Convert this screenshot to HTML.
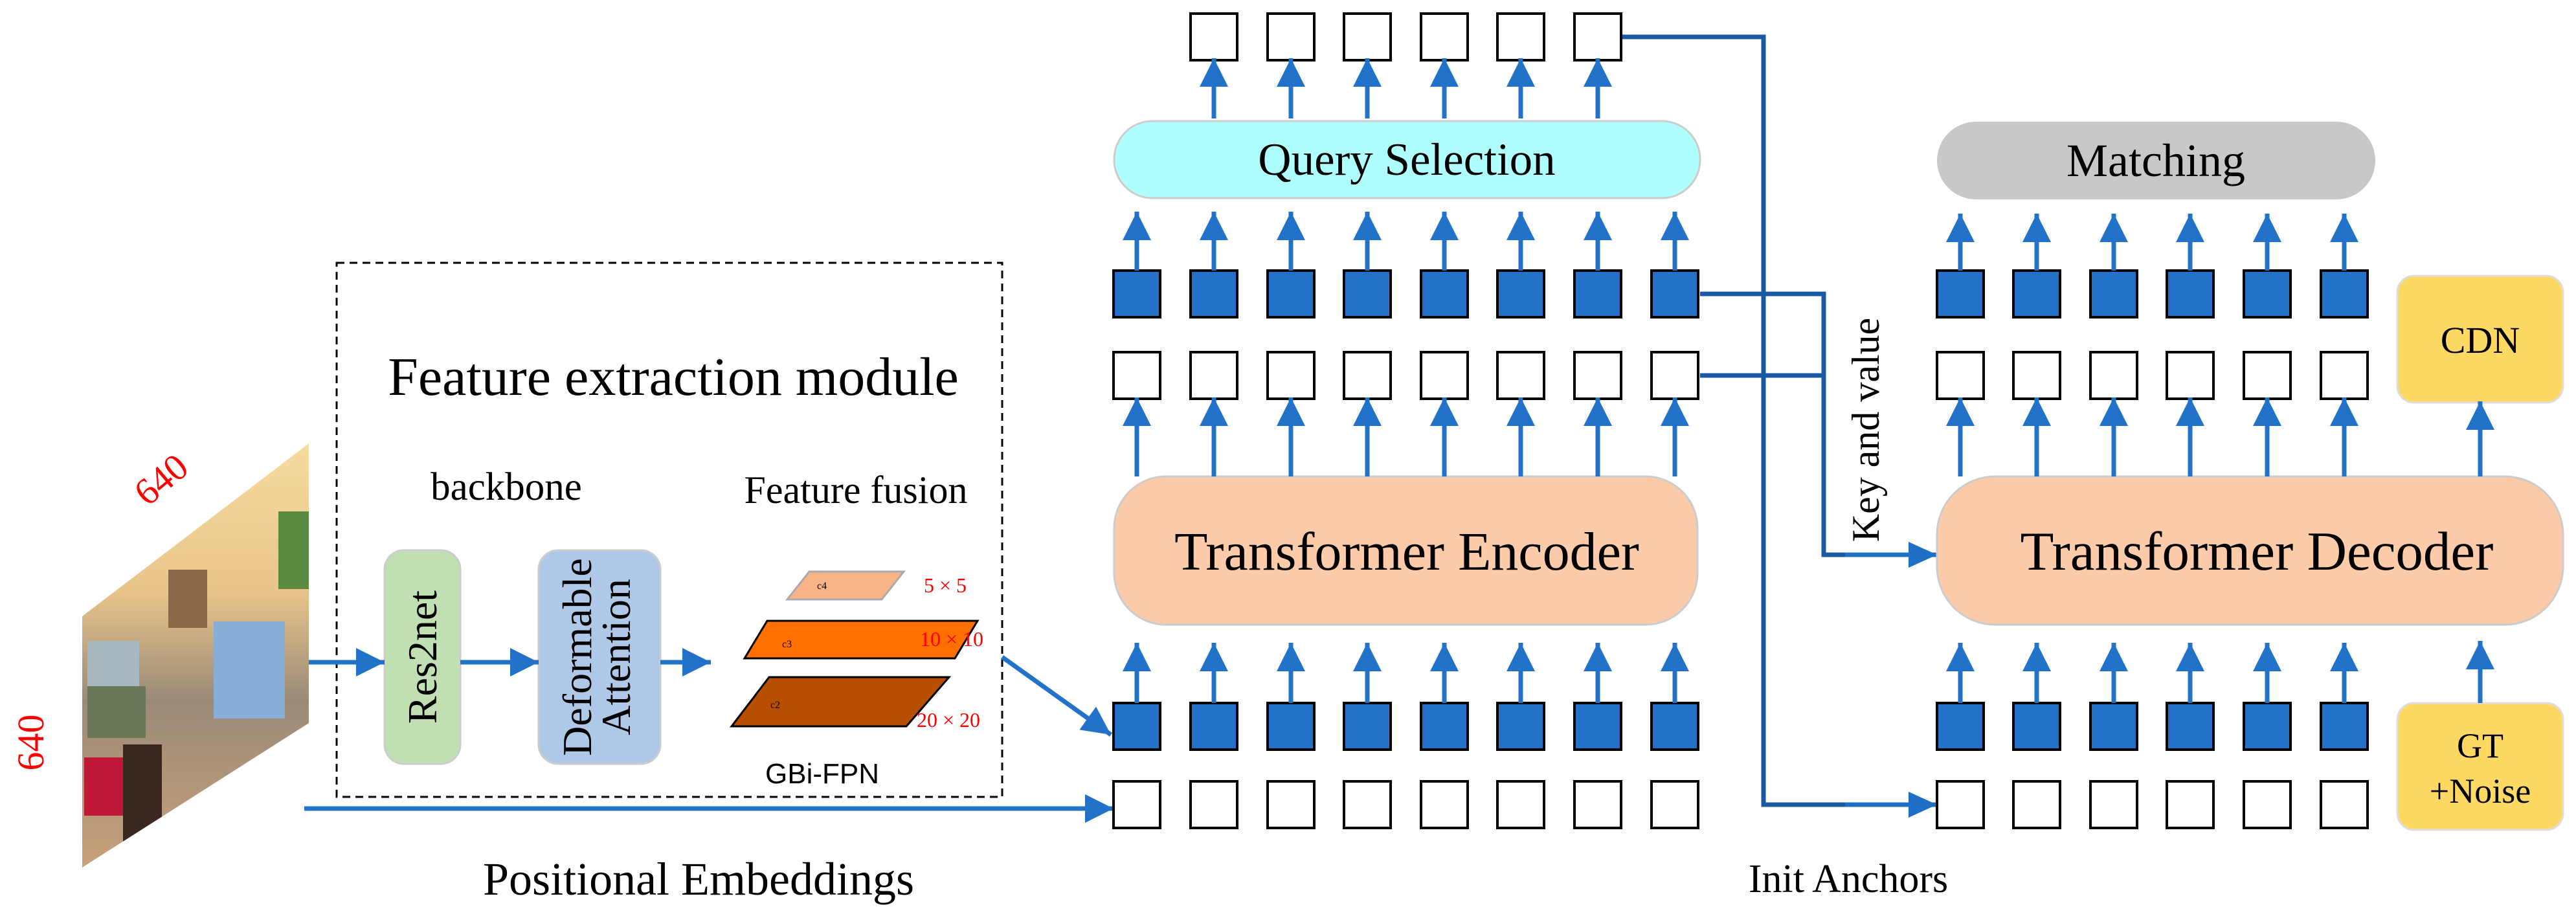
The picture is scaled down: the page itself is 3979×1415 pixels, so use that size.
<!DOCTYPE html>
<html><head><meta charset="utf-8"><style>
html,body{margin:0;padding:0;background:#fff}
svg{display:block}
text{font-family:"Liberation Serif",serif}
</style></head><body>
<svg width="3979" height="1415" viewBox="0 0 3979 1415" xmlns="http://www.w3.org/2000/svg" font-family="Liberation Serif, serif">
<defs>
<marker id="a" markerUnits="userSpaceOnUse" markerWidth="46" markerHeight="46" refX="44" refY="22" orient="auto"><path d="M0,0 L44,22 L0,44 z" fill="#2172c8"/></marker>
<marker id="b" markerUnits="userSpaceOnUse" markerWidth="46" markerHeight="46" refX="44" refY="20" orient="auto"><path d="M0,0 L44,20 L0,40 z" fill="#1f6fc6"/></marker>
<clipPath id="img"><polygon points="127,952 477,685 477,1117 127,1340"/></clipPath>
<linearGradient id="g1" x1="0" y1="0" x2="0" y2="1"><stop offset="0" stop-color="#f6dca0"/><stop offset="0.35" stop-color="#e8c48a"/><stop offset="0.6" stop-color="#9a8a78"/><stop offset="1" stop-color="#caa27a"/></linearGradient>
</defs>

<g clip-path="url(#img)">
<rect x="120" y="680" width="360" height="670" fill="url(#g1)"/>
<rect x="135" y="990" width="80" height="140" fill="#a8b8c0"/>
<rect x="135" y="1060" width="90" height="80" fill="#6a7858"/>
<rect x="330" y="960" width="110" height="150" fill="#88aed8"/>
<rect x="260" y="880" width="60" height="90" fill="#8a6848"/>
<rect x="130" y="1170" width="70" height="90" fill="#c01838"/>
<rect x="190" y="1150" width="60" height="150" fill="#3a2820"/>
<rect x="430" y="790" width="50" height="120" fill="#5a8a40"/>
</g>
<text x="249" y="760" font-size="58" fill="#ff0000" text-anchor="middle" transform="rotate(-40 249 741)">640</text>
<text x="46" y="1168" font-size="58" fill="#ff0000" text-anchor="middle" transform="rotate(-90 46 1147)">640</text>

<rect x="520" y="406" width="1028" height="825" fill="none" stroke="#000" stroke-width="3" stroke-dasharray="12,8"/>
<text x="1040" y="610" font-size="84" text-anchor="middle">Feature extraction module</text>
<text x="782" y="772" font-size="61" text-anchor="middle">backbone</text>
<text x="1322" y="777" font-size="60" text-anchor="middle">Feature fusion</text>

<rect x="594" y="850" width="117" height="330" rx="30" fill="#c0e0b4" stroke="#ccc" stroke-width="3"/>
<text x="0" y="0" font-size="64" text-anchor="middle" transform="translate(674 1015) rotate(-90)">Res2net</text>
<rect x="832" y="850" width="188" height="330" rx="30" fill="#b0c8e8" stroke="#ccc" stroke-width="3"/>
<text x="0" y="0" font-size="64" text-anchor="middle" transform="translate(913 1015) rotate(-90)">Deformable</text>
<text x="0" y="0" font-size="64" text-anchor="middle" transform="translate(973 1015) rotate(-90)">Attention</text>

<line x1="477" y1="1023" x2="594" y2="1023" stroke="#2172c8" stroke-width="7" marker-end="url(#a)"/>
<line x1="711" y1="1023" x2="832" y2="1023" stroke="#2172c8" stroke-width="7" marker-end="url(#a)"/>
<line x1="1020" y1="1023" x2="1098" y2="1023" stroke="#2172c8" stroke-width="7" marker-end="url(#a)"/>

<polygon points="1250,883 1396,883 1362,926 1216,926" fill="#f8b488" stroke="#aaa" stroke-width="3"/>
<polygon points="1185,959 1510,959 1475,1017 1150,1017" fill="#ff7000" stroke="#000" stroke-width="3"/>
<polygon points="1188,1046 1466,1046 1400,1122 1130,1122" fill="#b84e00" stroke="#000" stroke-width="3"/>
<text x="1262" y="910" font-size="16">c4</text>
<text x="1208" y="1000" font-size="16">c3</text>
<text x="1190" y="1094" font-size="16">c2</text>
<text x="1460" y="915" font-size="32" fill="#ff0000" text-anchor="middle">5 × 5</text>
<text x="1470" y="998" font-size="32" fill="#ff0000" text-anchor="middle">10 × 10</text>
<text x="1465" y="1123" font-size="32" fill="#ff0000" text-anchor="middle">20 × 20</text>
<text x="1270" y="1210" font-size="44" text-anchor="middle" style="font-family:'Liberation Sans',sans-serif">GBi-FPN</text>

<line x1="1548" y1="1015" x2="1716" y2="1135" stroke="#2172c8" stroke-width="7" marker-end="url(#a)"/>
<line x1="470" y1="1249" x2="1720" y2="1249" stroke="#2172c8" stroke-width="7" marker-end="url(#a)"/>
<text x="1079" y="1382" font-size="72" text-anchor="middle">Positional Embeddings</text>

<g stroke="#1a5aa4" stroke-width="7" fill="none">
<polyline points="2505,57 2724,57 2724,1243 2860,1243"/>
<polyline points="2626,454 2817,454 2817,857 2860,857"/>
<line x1="2626" y1="580" x2="2817" y2="580"/>
</g>
<line x1="2850" y1="857" x2="2992" y2="857" stroke="#1f6fc6" stroke-width="7" marker-end="url(#b)"/>
<line x1="2850" y1="1243" x2="2992" y2="1243" stroke="#1f6fc6" stroke-width="7" marker-end="url(#b)"/>
<text x="0" y="0" font-size="60" text-anchor="middle" transform="translate(2902 664) rotate(-90)">Key and value</text>
<text x="2855" y="1378" font-size="62" text-anchor="middle">Init Anchors</text>

<rect x="1721" y="187" width="905" height="119" rx="59" fill="#b0ffff" stroke="#ccc" stroke-width="3"/>
<text x="2173" y="270" font-size="71" text-anchor="middle">Query Selection</text>
<rect x="1721" y="736" width="901" height="229" rx="80" fill="#fccbaa" stroke="#ccc" stroke-width="3"/>
<text x="2173" y="880" font-size="84" text-anchor="middle">Transformer Encoder</text>

<g stroke="#000" stroke-width="4">
<g fill="#fff">
<rect x="1839" y="21" width="72" height="72"/><rect x="1958" y="21" width="72" height="72"/><rect x="2076" y="21" width="72" height="72"/><rect x="2195" y="21" width="72" height="72"/><rect x="2313" y="21" width="72" height="72"/><rect x="2432" y="21" width="72" height="72"/>
</g>
<g fill="#2172c8">
<rect x="1720" y="418" width="72" height="72"/><rect x="1839" y="418" width="72" height="72"/><rect x="1958" y="418" width="72" height="72"/><rect x="2076" y="418" width="72" height="72"/><rect x="2195" y="418" width="72" height="72"/><rect x="2313" y="418" width="72" height="72"/><rect x="2432" y="418" width="72" height="72"/><rect x="2551" y="418" width="72" height="72"/>
<rect x="1720" y="1086" width="72" height="72"/><rect x="1839" y="1086" width="72" height="72"/><rect x="1958" y="1086" width="72" height="72"/><rect x="2076" y="1086" width="72" height="72"/><rect x="2195" y="1086" width="72" height="72"/><rect x="2313" y="1086" width="72" height="72"/><rect x="2432" y="1086" width="72" height="72"/><rect x="2551" y="1086" width="72" height="72"/>
</g>
<g fill="#fff">
<rect x="1720" y="544" width="72" height="72"/><rect x="1839" y="544" width="72" height="72"/><rect x="1958" y="544" width="72" height="72"/><rect x="2076" y="544" width="72" height="72"/><rect x="2195" y="544" width="72" height="72"/><rect x="2313" y="544" width="72" height="72"/><rect x="2432" y="544" width="72" height="72"/><rect x="2551" y="544" width="72" height="72"/>
<rect x="1720" y="1207" width="72" height="72"/><rect x="1839" y="1207" width="72" height="72"/><rect x="1958" y="1207" width="72" height="72"/><rect x="2076" y="1207" width="72" height="72"/><rect x="2195" y="1207" width="72" height="72"/><rect x="2313" y="1207" width="72" height="72"/><rect x="2432" y="1207" width="72" height="72"/><rect x="2551" y="1207" width="72" height="72"/>
</g>
</g>

<g stroke="#2172c8" stroke-width="7">
<line x1="1875" y1="183" x2="1875" y2="90" marker-end="url(#a)"/><line x1="1994" y1="183" x2="1994" y2="90" marker-end="url(#a)"/><line x1="2112" y1="183" x2="2112" y2="90" marker-end="url(#a)"/><line x1="2231" y1="183" x2="2231" y2="90" marker-end="url(#a)"/><line x1="2349" y1="183" x2="2349" y2="90" marker-end="url(#a)"/><line x1="2468" y1="183" x2="2468" y2="90" marker-end="url(#a)"/>
<line x1="1756" y1="418" x2="1756" y2="327" marker-end="url(#a)"/><line x1="1875" y1="418" x2="1875" y2="327" marker-end="url(#a)"/><line x1="1994" y1="418" x2="1994" y2="327" marker-end="url(#a)"/><line x1="2112" y1="418" x2="2112" y2="327" marker-end="url(#a)"/><line x1="2231" y1="418" x2="2231" y2="327" marker-end="url(#a)"/><line x1="2349" y1="418" x2="2349" y2="327" marker-end="url(#a)"/><line x1="2468" y1="418" x2="2468" y2="327" marker-end="url(#a)"/><line x1="2587" y1="418" x2="2587" y2="327" marker-end="url(#a)"/>
<line x1="1756" y1="736" x2="1756" y2="614" marker-end="url(#a)"/><line x1="1875" y1="736" x2="1875" y2="614" marker-end="url(#a)"/><line x1="1994" y1="736" x2="1994" y2="614" marker-end="url(#a)"/><line x1="2112" y1="736" x2="2112" y2="614" marker-end="url(#a)"/><line x1="2231" y1="736" x2="2231" y2="614" marker-end="url(#a)"/><line x1="2349" y1="736" x2="2349" y2="614" marker-end="url(#a)"/><line x1="2468" y1="736" x2="2468" y2="614" marker-end="url(#a)"/><line x1="2587" y1="736" x2="2587" y2="614" marker-end="url(#a)"/>
<line x1="1756" y1="1086" x2="1756" y2="993" marker-end="url(#a)"/><line x1="1875" y1="1086" x2="1875" y2="993" marker-end="url(#a)"/><line x1="1994" y1="1086" x2="1994" y2="993" marker-end="url(#a)"/><line x1="2112" y1="1086" x2="2112" y2="993" marker-end="url(#a)"/><line x1="2231" y1="1086" x2="2231" y2="993" marker-end="url(#a)"/><line x1="2349" y1="1086" x2="2349" y2="993" marker-end="url(#a)"/><line x1="2468" y1="1086" x2="2468" y2="993" marker-end="url(#a)"/><line x1="2587" y1="1086" x2="2587" y2="993" marker-end="url(#a)"/>
</g>

<rect x="2992" y="188" width="677" height="120" rx="60" fill="#c8c8c8"/>
<text x="3330" y="272" font-size="72" text-anchor="middle">Matching</text>
<rect x="2992" y="736" width="967" height="229" rx="90" fill="#fccbaa" stroke="#ccc" stroke-width="3"/>
<text x="3486" y="880" font-size="85" text-anchor="middle">Transformer Decoder</text>
<rect x="3703" y="426" width="256" height="196" rx="26" fill="#fdd964" stroke="#ddd" stroke-width="3"/>
<text x="3831" y="545" font-size="58" text-anchor="middle">CDN</text>
<rect x="3703" y="1086" width="256" height="196" rx="26" fill="#fdd964" stroke="#ddd" stroke-width="3"/>
<text x="3831" y="1170" font-size="54" text-anchor="middle">GT</text>
<text x="3831" y="1240" font-size="54" text-anchor="middle">+Noise</text>

<g stroke="#000" stroke-width="4">
<g fill="#2172c8">
<rect x="2992" y="418" width="72" height="72"/><rect x="3110" y="418" width="72" height="72"/><rect x="3229" y="418" width="72" height="72"/><rect x="3347" y="418" width="72" height="72"/><rect x="3466" y="418" width="72" height="72"/><rect x="3585" y="418" width="72" height="72"/>
<rect x="2992" y="1086" width="72" height="72"/><rect x="3110" y="1086" width="72" height="72"/><rect x="3229" y="1086" width="72" height="72"/><rect x="3347" y="1086" width="72" height="72"/><rect x="3466" y="1086" width="72" height="72"/><rect x="3585" y="1086" width="72" height="72"/>
</g>
<g fill="#fff">
<rect x="2992" y="544" width="72" height="72"/><rect x="3110" y="544" width="72" height="72"/><rect x="3229" y="544" width="72" height="72"/><rect x="3347" y="544" width="72" height="72"/><rect x="3466" y="544" width="72" height="72"/><rect x="3585" y="544" width="72" height="72"/>
<rect x="2992" y="1207" width="72" height="72"/><rect x="3110" y="1207" width="72" height="72"/><rect x="3229" y="1207" width="72" height="72"/><rect x="3347" y="1207" width="72" height="72"/><rect x="3466" y="1207" width="72" height="72"/><rect x="3585" y="1207" width="72" height="72"/>
</g>
</g>

<g stroke="#2172c8" stroke-width="7">
<line x1="3028" y1="418" x2="3028" y2="330" marker-end="url(#a)"/><line x1="3146" y1="418" x2="3146" y2="330" marker-end="url(#a)"/><line x1="3265" y1="418" x2="3265" y2="330" marker-end="url(#a)"/><line x1="3383" y1="418" x2="3383" y2="330" marker-end="url(#a)"/><line x1="3502" y1="418" x2="3502" y2="330" marker-end="url(#a)"/><line x1="3621" y1="418" x2="3621" y2="330" marker-end="url(#a)"/>
<line x1="3028" y1="736" x2="3028" y2="614" marker-end="url(#a)"/><line x1="3146" y1="736" x2="3146" y2="614" marker-end="url(#a)"/><line x1="3265" y1="736" x2="3265" y2="614" marker-end="url(#a)"/><line x1="3383" y1="736" x2="3383" y2="614" marker-end="url(#a)"/><line x1="3502" y1="736" x2="3502" y2="614" marker-end="url(#a)"/><line x1="3621" y1="736" x2="3621" y2="614" marker-end="url(#a)"/>
<line x1="3831" y1="736" x2="3831" y2="620" marker-end="url(#a)"/>
<line x1="3028" y1="1086" x2="3028" y2="993" marker-end="url(#a)"/><line x1="3146" y1="1086" x2="3146" y2="993" marker-end="url(#a)"/><line x1="3265" y1="1086" x2="3265" y2="993" marker-end="url(#a)"/><line x1="3383" y1="1086" x2="3383" y2="993" marker-end="url(#a)"/><line x1="3502" y1="1086" x2="3502" y2="993" marker-end="url(#a)"/><line x1="3621" y1="1086" x2="3621" y2="993" marker-end="url(#a)"/>
<line x1="3831" y1="1086" x2="3831" y2="990" marker-end="url(#a)"/>
</g>
</svg>
</body></html>
